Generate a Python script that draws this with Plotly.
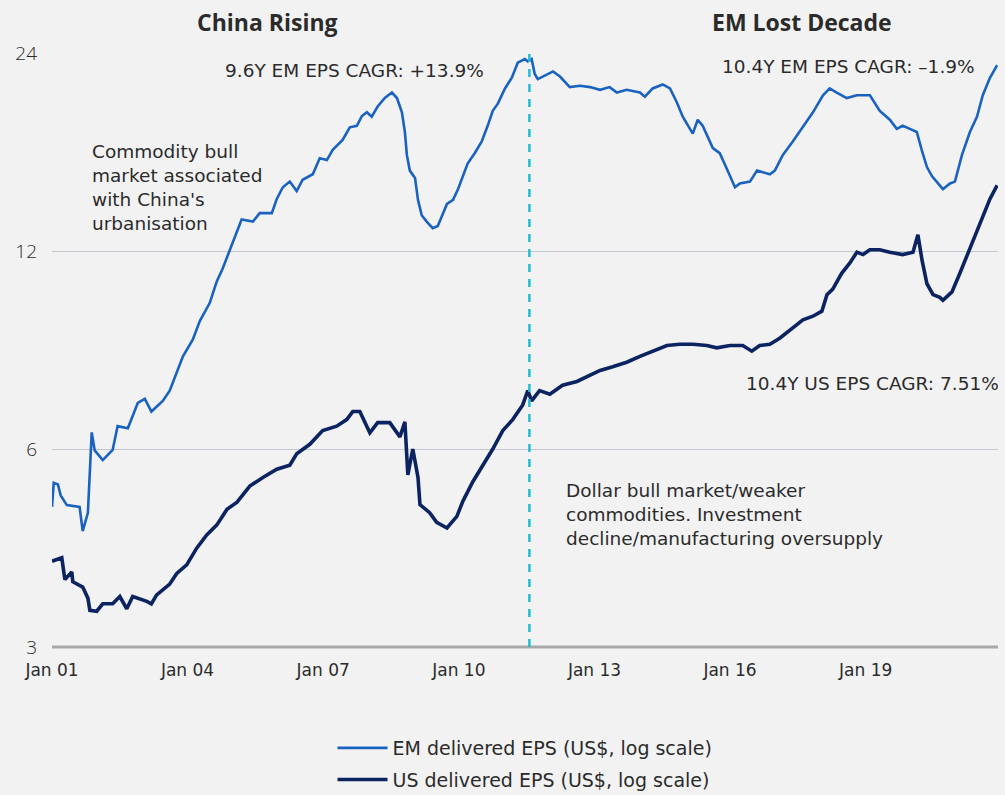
import plotly.graph_objects as go
import math

# ---------------- data ----------------
em_dates = [
    "2001-01-01", "2001-01-15", "2001-02-18", "2001-03-12", "2001-05-01", "2001-08-12", "2001-09-06",
    "2001-10-18", "2001-11-18", "2001-12-12", "2002-02-15", "2002-05-06", "2002-06-15", "2002-09-06",
    "2002-11-25", "2003-01-21", "2003-03-15", "2003-06-15", "2003-08-10", "2003-10-06", "2003-11-25",
    "2004-02-12", "2004-04-10", "2004-06-28", "2004-08-25", "2004-10-12", "2004-12-10", "2005-02-04",
    "2005-03-13", "2005-06-12", "2005-08-06", "2005-11-12", "2005-12-22", "2006-02-09", "2006-04-06",
    "2006-06-01", "2006-07-19", "2006-10-09", "2006-12-04", "2007-01-31", "2007-03-19", "2007-06-07",
    "2007-08-04", "2007-09-30", "2007-11-10", "2007-12-20", "2008-01-28", "2008-03-16", "2008-05-13",
    "2008-07-09", "2008-08-19", "2008-09-28", "2008-10-22", "2008-11-07", "2008-12-01", "2009-01-12",
    "2009-02-05", "2009-03-07", "2009-04-16", "2009-06-04", "2009-07-15", "2009-09-27", "2009-11-15",
    "2009-12-25", "2010-02-03", "2010-03-13", "2010-05-09", "2010-07-04", "2010-08-22", "2010-10-02",
    "2010-11-12", "2011-01-09", "2011-03-04", "2011-04-22", "2011-06-18", "2011-07-12", "2011-08-12",
    "2011-09-06", "2011-10-01", "2011-11-10", "2012-02-01", "2012-03-28", "2012-06-15", "2012-09-06",
    "2012-11-25", "2013-02-15", "2013-05-03", "2013-07-01", "2013-09-18", "2014-01-03", "2014-02-12",
    "2014-04-16", "2014-07-06", "2014-09-03", "2014-10-28", "2014-12-15", "2015-03-06", "2015-04-15",
    "2015-05-25", "2015-08-15", "2015-10-10", "2015-12-06", "2016-01-01", "2016-02-10", "2016-03-20",
    "2016-06-10", "2016-08-06", "2016-09-22", "2016-11-18", "2016-12-28", "2017-03-03", "2017-05-22",
    "2017-08-12", "2017-11-01", "2018-01-21", "2018-03-16", "2018-05-12", "2018-08-01", "2018-10-22",
    "2019-02-04", "2019-04-25", "2019-07-15", "2019-09-09", "2019-10-27", "2019-12-24", "2020-02-18",
    "2020-04-01", "2020-05-10", "2020-06-19", "2020-08-07", "2020-09-16", "2020-11-12", "2020-12-22",
    "2021-02-17", "2021-04-22", "2021-06-18", "2021-08-04", "2021-10-01", "2021-11-28",
]
em_eps = [
    4.9, 5.33, 5.3, 5.1, 4.93, 4.9, 4.5,
    4.8, 6.36, 5.97, 5.77, 5.98, 6.5, 6.45,
    7.05, 7.15, 6.84, 7.1, 7.36, 7.84, 8.3,
    8.8, 9.4, 10.0, 10.8, 11.3, 12.1, 12.9,
    13.4, 13.3, 13.7, 13.7, 14.4, 15.0, 15.3,
    14.8, 15.4, 15.7, 16.6, 16.5, 17.1, 17.7,
    18.5, 18.6, 19.25, 19.5, 19.2, 19.9, 20.5,
    20.9, 20.5, 19.5, 18.2, 16.8, 15.9, 15.5,
    14.35, 13.6, 13.3, 13.0, 13.1, 14.15, 14.35,
    14.9, 15.6, 16.3, 16.9, 17.6, 18.6, 19.6,
    20.1, 21.2, 22.0, 23.2, 23.5, 23.3, 23.5,
    22.3, 21.9, 22.1, 22.5, 22.1, 21.3, 21.4,
    21.3, 21.1, 21.3, 20.9, 21.1, 20.9, 20.6,
    21.2, 21.5, 21.2, 20.2, 19.2, 18.1, 19.0,
    18.6, 17.2, 16.9, 16.0, 15.6, 15.0, 15.2,
    15.3, 15.9, 15.8, 15.7, 15.9, 16.8, 17.6,
    18.5, 19.5, 20.7, 21.2, 20.9, 20.5, 20.7,
    20.7, 19.6, 19.0, 18.4, 18.6, 18.4, 18.2,
    17.0, 16.1, 15.6, 15.2, 14.9, 15.2, 15.3,
    16.8, 18.2, 19.2, 20.7, 22.0, 23.0,
]

us_dates = [
    "2001-01-01", "2001-03-21", "2001-04-15", "2001-06-10", "2001-06-18", "2001-09-06", "2001-10-18",
    "2001-11-03", "2001-12-28", "2002-02-15", "2002-05-06", "2002-07-03", "2002-08-28", "2002-10-15",
    "2003-02-06", "2003-03-15", "2003-04-27", "2003-08-10", "2003-10-06", "2003-12-25", "2004-03-15",
    "2004-06-04", "2004-08-25", "2004-11-15", "2005-02-04", "2005-05-18", "2005-09-01", "2005-12-22",
    "2006-04-06", "2006-06-01", "2006-09-15", "2006-12-28", "2007-04-20", "2007-07-10", "2007-08-28",
    "2007-10-24", "2008-01-13", "2008-03-16", "2008-06-22", "2008-09-12", "2008-10-22", "2008-11-15",
    "2008-12-25", "2009-02-05", "2009-02-21", "2009-05-10", "2009-07-06", "2009-09-27", "2009-12-16",
    "2010-02-03", "2010-04-24", "2010-07-13", "2010-10-02", "2010-12-22", "2011-03-12", "2011-06-01",
    "2011-07-12", "2011-08-12", "2011-10-15", "2012-01-06", "2012-04-18", "2012-08-12", "2012-11-01",
    "2013-02-15", "2013-05-28", "2013-09-18", "2014-01-03", "2014-04-16", "2014-08-09", "2014-11-21",
    "2015-03-06", "2015-06-28", "2015-09-15", "2016-01-01", "2016-04-13", "2016-06-25", "2016-08-28",
    "2016-11-18", "2017-02-08", "2017-05-22", "2017-08-12", "2017-11-01", "2018-01-12", "2018-02-22",
    "2018-04-10", "2018-06-21", "2018-08-25", "2018-10-22", "2018-12-10", "2019-02-04", "2019-04-25",
    "2019-07-15", "2019-10-27", "2020-01-18", "2020-02-27", "2020-04-01", "2020-05-10", "2020-06-28",
    "2020-08-22", "2020-09-16", "2020-11-28", "2021-01-31", "2021-04-22", "2021-06-18", "2021-08-04",
    "2021-10-01", "2021-11-28",
]
us_eps = [
    4.05, 4.1, 3.8, 3.9, 3.77, 3.7, 3.56,
    3.41, 3.40, 3.49, 3.49, 3.58, 3.43, 3.58,
    3.52, 3.49, 3.6, 3.74, 3.88, 4.0, 4.24,
    4.44, 4.6, 4.86, 4.98, 5.27, 5.43, 5.59,
    5.67, 5.9, 6.1, 6.4, 6.5, 6.65, 6.84,
    6.84, 6.35, 6.58, 6.58, 6.26, 6.6, 5.48,
    6.0, 5.43, 4.94, 4.8, 4.64, 4.55, 4.74,
    5.0, 5.35, 5.65, 6.0, 6.4, 6.65, 7.0,
    7.36, 7.1, 7.36, 7.27, 7.5, 7.6, 7.73,
    7.9, 8.0, 8.13, 8.3, 8.45, 8.62, 8.66,
    8.66, 8.62, 8.55, 8.62, 8.62, 8.45, 8.62,
    8.66, 8.85, 9.17, 9.43, 9.55, 9.72, 10.3,
    10.5, 11.1, 11.5, 11.95, 11.85, 12.05, 12.05,
    11.95, 11.85, 11.95, 12.7, 11.6, 10.7, 10.3,
    10.2, 10.1, 10.4, 11.1, 12.1, 12.9, 13.6,
    14.4, 15.1,
]

x_tick_vals = ["2001-01-01", "2004-01-01", "2007-01-01", "2010-01-01",
               "2013-01-01", "2016-01-01", "2019-01-01"]
x_tick_text = ["Jan 01", "Jan 04", "Jan 07", "Jan 10", "Jan 13", "Jan 16", "Jan 19"]
y_tick_vals = [3, 6, 12, 24]
y_tick_text = ["3", "6", "12", "24"]
regime_change_date = "2011-07-25"
x_range = ["2001-01-01", "2021-12-05"]

# ---------------- figure ----------------
FONT = "DejaVu Sans"
TITLE_FONT = "Open Sans"
TXT = "#2b2b2b"
EM_COLOR = "#1a62c0"
US_COLOR = "#0b2461"

fig = go.Figure()
fig.add_trace(go.Scatter(
    x=em_dates, y=em_eps, mode="lines", name="EM delivered EPS (US$, log scale)",
    legendgroup="em", line=dict(color=EM_COLOR, width=2.6),
))
fig.add_trace(go.Scatter(
    x=us_dates, y=us_eps, mode="lines", name="US delivered EPS (US$, log scale)",
    legendgroup="us", line=dict(color=US_COLOR, width=3.6),
))

fig.add_shape(type="line", xref="x", yref="paper", x0=regime_change_date, x1=regime_change_date,
              y0=0, y1=1, line=dict(color="#22bcd6", width=2.5, dash="8px,7px"), layer="above")

ann = [
    dict(text="<b>China Rising</b>", x=0.228, y=1.052, xanchor="center", yanchor="middle", size=23, f=TITLE_FONT),
    dict(text="<b>EM Lost Decade</b>", x=0.793, y=1.052, xanchor="center", yanchor="middle", size=23, f=TITLE_FONT),
    dict(text="9.6Y EM EPS CAGR: +13.9%", x=0.181, y=0.971, xanchor="left", yanchor="middle", size=18.5, f=FONT),
    dict(text="10.4Y EM EPS CAGR: \u20131.9%", x=0.978, y=0.978, xanchor="right", yanchor="middle", size=18.5, f=FONT),
    dict(text="10.4Y US EPS CAGR: 7.51%", x=1.003, y=0.444, xanchor="right", yanchor="middle", size=18.5, f=FONT),
    dict(text="Commodity bull<br>market associated<br>with China's<br>urbanisation",
         x=0.040, y=0.855, xanchor="left", yanchor="top", size=18.5, f=FONT),
    dict(text="Dollar bull market/weaker<br>commodities. Investment<br>decline/manufacturing oversupply",
         x=0.541, y=0.284, xanchor="left", yanchor="top", size=18.5, f=FONT),
]
for a in ann:
    fig.add_annotation(text=a["text"], xref="paper", yref="paper", x=a["x"], y=a["y"],
                       xanchor=a["xanchor"], yanchor=a["yanchor"], showarrow=False, align="left",
                       font=dict(family=a["f"], size=a["size"], color=TXT))

fig.update_layout(
    width=1005, height=795,
    margin=dict(l=52, r=7, t=53, b=148),
    paper_bgcolor="#f2f2f2", plot_bgcolor="#f2f2f2",
    font=dict(family=FONT, color=TXT),
    showlegend=True,
    legend=dict(orientation="v", x=0.5, xanchor="center", yref="container", y=0.083, yanchor="top",
                bgcolor="rgba(0,0,0,0)", font=dict(family=FONT, size=19, color=TXT),
                tracegroupgap=4, itemwidth=50),
    xaxis=dict(type="date", range=x_range, tickmode="array", tickvals=x_tick_vals,
               ticktext=x_tick_text, showgrid=False, zeroline=False, showline=False,
               ticks="", tickfont=dict(family=FONT, size=17, color=TXT), ticklabelstandoff=11),
    yaxis=dict(type="log", range=[math.log10(3), math.log10(24)], tickmode="array",
               tickvals=y_tick_vals, ticktext=y_tick_text, showgrid=True, gridcolor="#c3c7d0",
               gridwidth=1.3, zeroline=False, showline=False, ticks="",
               tickfont=dict(family=TITLE_FONT, size=19, color=TXT, weight=300), ticklabelstandoff=14),
)
# bottom axis line (at y = 3)
fig.add_shape(type="line", xref="paper", yref="paper", x0=0, x1=1, y0=0, y1=0,
              line=dict(color="#a8a8a8", width=3), layer="below")

fig.write_html("out.html", config={"displayModeBar": False},
               post_script="document.body.style.margin='0';document.body.style.overflow='hidden';")
